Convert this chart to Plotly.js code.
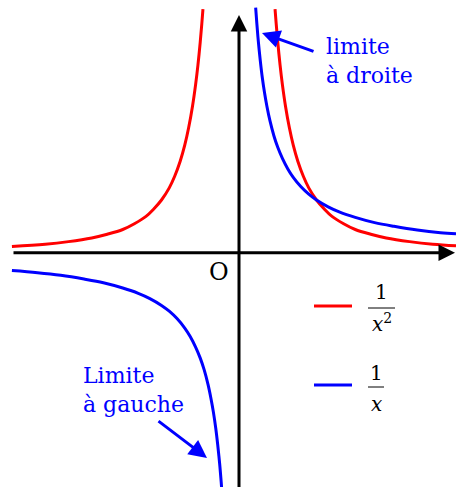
<!DOCTYPE html>
<html>
<head>
<meta charset="utf-8">
<script src="https://cdn.plot.ly/plotly-3.0.1.min.js"></script>
<style>
  html, body { margin: 0; padding: 0; background: #fff; }
  #plot { width: 456px; height: 487px; }
</style>
</head>
<body>
<div id="plot"></div>
<script>
// 1/x (right and left branch)
const invRightX = [0.215, 0.23, 0.25, 0.275, 0.3, 0.33, 0.36, 0.4, 0.45, 0.5, 0.56, 0.63, 0.7, 0.8, 0.9, 1.0, 1.15, 1.3, 1.5, 1.75, 2.0, 2.3, 2.6, 2.8];
const invRightY = [4.65, 4.35, 4.0, 3.64, 3.33, 3.03, 2.78, 2.5, 2.22, 2.0, 1.79, 1.59, 1.43, 1.25, 1.11, 1.0, 0.87, 0.77, 0.67, 0.57, 0.5, 0.43, 0.38, 0.36];
const invLeftX = [-2.93, -2.6, -2.3, -2.0, -1.75, -1.5, -1.3, -1.15, -1.0, -0.9, -0.8, -0.7, -0.63, -0.56, -0.5, -0.45, -0.4, -0.36, -0.33, -0.3, -0.275, -0.25, -0.23, -0.215];
const invLeftY = [-0.34, -0.38, -0.43, -0.5, -0.57, -0.67, -0.77, -0.87, -1.0, -1.11, -1.25, -1.43, -1.59, -1.79, -2.0, -2.22, -2.5, -2.78, -3.03, -3.33, -3.64, -4.0, -4.35, -4.65];

// 1/x^2
const sqRightX = [0.465, 0.48, 0.5, 0.53, 0.56, 0.6, 0.65, 0.7, 0.76, 0.83, 0.9, 1.0, 1.1, 1.2, 1.35, 1.5, 1.7, 1.9, 2.2, 2.5, 2.8];
const sqRightY = [4.62, 4.34, 4.0, 3.56, 3.19, 2.78, 2.37, 2.04, 1.73, 1.45, 1.23, 1.0, 0.83, 0.69, 0.55, 0.44, 0.35, 0.28, 0.21, 0.16, 0.13];
const sqLeftX = [-2.93, -2.5, -2.2, -1.9, -1.7, -1.5, -1.35, -1.2, -1.1, -1.0, -0.9, -0.83, -0.76, -0.7, -0.65, -0.6, -0.56, -0.53, -0.5, -0.48, -0.465];
const sqLeftY = [0.117, 0.16, 0.21, 0.28, 0.35, 0.44, 0.55, 0.69, 0.83, 1.0, 1.23, 1.45, 1.73, 2.04, 2.37, 2.78, 3.19, 3.56, 4.0, 4.34, 4.62];

const RED = '#ff0000';
const BLUE = '#0000ff';
const FONT = "'DejaVu Serif', 'Liberation Serif', serif";

// pixel -> data helpers for decorations (origin at 239,252.7)
const X = px => (px - 239) / 77.5;
const Y = py => (252.7 - py) / 52.7;

function curve(x, y, color) {
    return {
        x: x, y: y,
        mode: 'lines',
        line: {color: color, width: 3, shape: 'spline'},
        hoverinfo: 'skip'
    };
}

const data = [
    curve(sqLeftX, sqLeftY, RED),
    curve(sqRightX, sqRightY, RED),
    curve(invLeftX, invLeftY, BLUE),
    curve(invRightX, invRightY, BLUE)
];

function arrow(x0, y0, x1, y1, color, size) {
    return {
        x: X(x1), y: Y(y1), ax: X(x0), ay: Y(y0),
        xref: 'x', yref: 'y', axref: 'x', ayref: 'y',
        text: '', showarrow: true,
        arrowhead: 2, arrowsize: size || 1, arrowwidth: 3, arrowcolor: color
    };
}

function label(px, py, text, color, size, anchor) {
    return {
        x: X(px), y: Y(py), xref: 'x', yref: 'y',
        text: text, showarrow: false,
        xanchor: anchor || 'center', yanchor: 'middle', align: 'left',
        font: {family: FONT, size: size, color: color}
    };
}

const annotations = [
    // axes
    arrow(12, 252.7, 455, 252.7, 'black', 1.1),
    arrow(239, 490, 239, 15, 'black', 1.1),
    label(219, 272, 'O', 'black', 24),
    // callouts
    arrow(315, 52, 262, 33, BLUE, 1.2),
    arrow(157, 420, 207, 458, BLUE, 1.2),
    label(324, 61, 'limite<br>à droite', BLUE, 22, 'left'),
    label(81, 390, 'Limite<br>à gauche', BLUE, 22, 'left'),
    // legend labels
    label(381, 292, '1', 'black', 20),
    label(382, 323, '<i>x</i><sup>2</sup>', 'black', 20),
    label(376, 373, '1', 'black', 20),
    label(376, 404, '<i>x</i>', 'black', 20)
];

const shapes = [
    {type: 'line', xref: 'x', yref: 'y', x0: X(314), x1: X(352), y0: Y(306), y1: Y(306), line: {color: RED, width: 3}},
    {type: 'line', xref: 'x', yref: 'y', x0: X(314), x1: X(352), y0: Y(385), y1: Y(385), line: {color: BLUE, width: 3}},
    {type: 'line', xref: 'x', yref: 'y', x0: X(368), x1: X(395), y0: Y(308), y1: Y(308), line: {color: 'black', width: 1}},
    {type: 'line', xref: 'x', yref: 'y', x0: X(368), x1: X(384), y0: Y(387), y1: Y(387), line: {color: 'black', width: 1}}
];

const layout = {
    width: 456,
    height: 487,
    margin: {l: 0, r: 0, t: 0, b: 0},
    paper_bgcolor: 'white',
    plot_bgcolor: 'white',
    showlegend: false,
    xaxis: {range: [X(0), X(456)], visible: false, fixedrange: true},
    yaxis: {range: [Y(487), Y(0)], visible: false, fixedrange: true},
    annotations: annotations,
    shapes: shapes
};

Plotly.newPlot('plot', data, layout, {displayModeBar: false, staticPlot: true});
</script>
</body>
</html>
